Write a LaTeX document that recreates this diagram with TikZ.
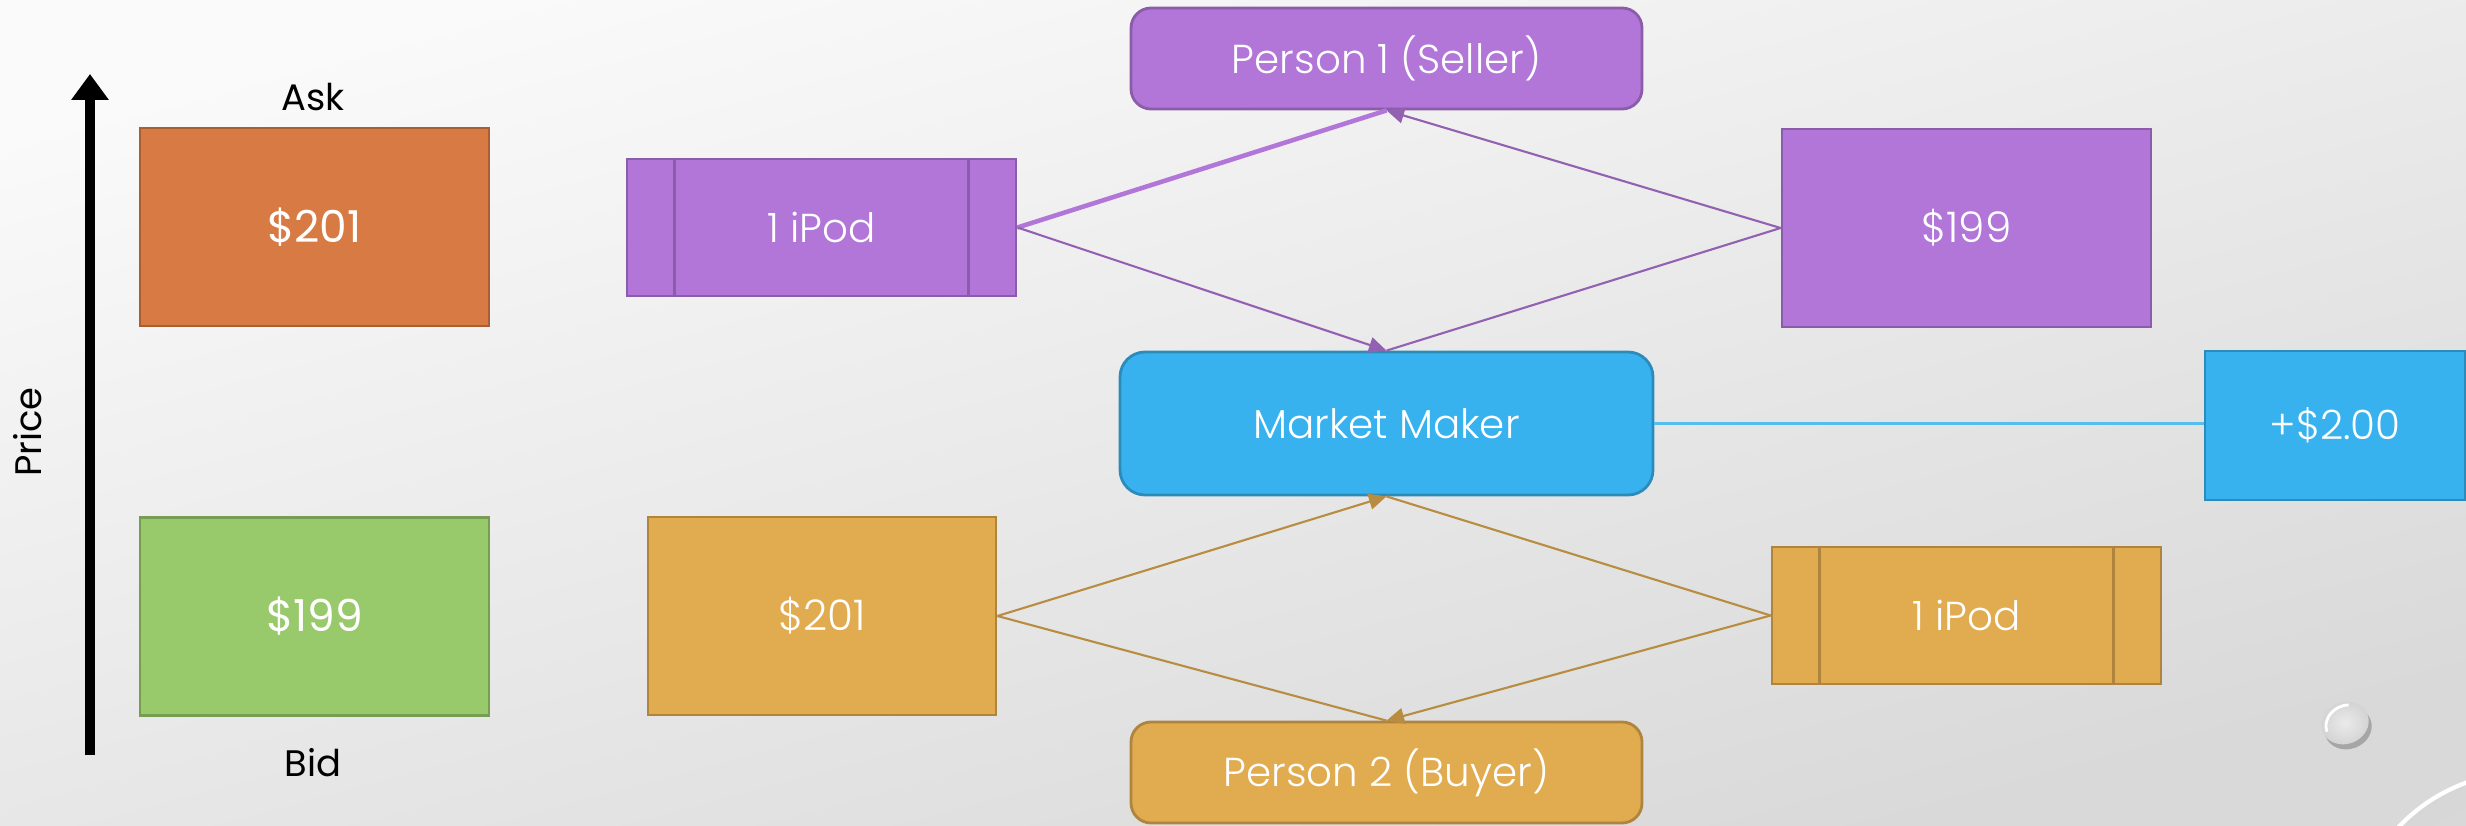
\documentclass[tikz,border=0pt]{standalone}
\usepackage{fontspec}
\setmainfont{Poppins}
\newfontfamily\boxfont{Poppins Light}
\usetikzlibrary{arrows.meta,positioning}
\definecolor{askorange}{HTML}{D87A43}
\definecolor{bidgreen}{HTML}{98C96A}
\definecolor{sellpurple}{HTML}{B276D9}
\definecolor{buygold}{HTML}{E1AB4F}
\definecolor{makerblue}{HTML}{38B2EF}

\begin{document}
\begin{tikzpicture}[
  sidelabel/.style={font=\fontsize{10.5}{12}\selectfont},
  quote/.style={draw=#1!78!black, fill=#1, line width=0.8pt, text=white,
    minimum width=3.49cm, minimum height=1.98cm, font=\fontsize{12.5}{14}\selectfont},
  flowbox/.style={draw=#1!78!black, fill=#1, line width=0.8pt, text=white,
    inner sep=0pt, font=\boxfont\fontsize{11.5}{13}\selectfont},
  party/.style={flowbox=#1, rounded corners=0.2cm, minimum width=5.11cm, minimum height=1.01cm},
  goods/.style={flowbox=#1, minimum width=3.89cm, minimum height=1.37cm},
  cash/.style={flowbox=#1, minimum width=3.69cm, minimum height=1.98cm, font=\boxfont\fontsize{12}{14}\selectfont},
  tradeline/.style={draw=#1!82!black, line width=0.6pt},
  tradearrow/.style={tradeline=#1, -{Triangle[length=5pt,width=4.5pt]}},
]
% slide backdrop
\useasboundingbox (0,0) rectangle (24.66,8.25);
\shade[top color=white!98!black, bottom color=black!15, shading angle=15] (0,0) rectangle (24.66,8.25);

% price scale on the left
\coordinate (pbot) at (0.90,0.70);
\coordinate (ptop) at (0.90,7.51);
\draw[line width=2.8pt, -{Triangle[length=0.26cm,width=0.36cm]}] (pbot) -- (ptop);
\node[sidelabel, rotate=90] (pricelbl) at (0.28,3.93) {Price};
\node[quote=askorange] (ask) at (3.145,5.98) {\$201};
\node[quote=bidgreen] (bid) at (3.145,2.085) {\$199};
\node[sidelabel] (asklbl) at (3.13,7.28) {Ask};
\node[sidelabel] (bidlbl) at (3.13,0.62) {Bid};

% the two sides of the trade
\node[party=sellpurple] (seller) at (13.865,7.665) {Person 1 (Seller)};
\node[party=makerblue, rounded corners=0.25cm, minimum width=5.33cm, minimum height=1.43cm] (maker) at (13.865,4.015) {Market Maker};
\node[party=buygold] (buyer) at (13.865,0.525) {Person 2 (Buyer)};
\node[goods=sellpurple] (ipodA) at (8.215,5.975) {1 iPod};
\node[cash=sellpurple] (payA) at (19.665,5.97) {\$199};
\node[cash=buygold, minimum width=3.48cm] (payB) at (8.22,2.09) {\$201};
\node[goods=buygold] (ipodB) at (19.665,2.095) {1 iPod};
\node[flowbox=makerblue, minimum width=2.6cm, minimum height=1.49cm] (gain) at (23.35,3.995) {+\$2.00};

% side bars of the goods boxes
\foreach \n/\c in {ipodA/sellpurple, ipodB/buygold} {
  \draw[\c!78!black, line width=0.8pt] ([xshift=0.49cm]\n.north west) -- ([xshift=0.49cm]\n.south west);
  \draw[\c!78!black, line width=0.8pt] ([xshift=-0.49cm]\n.north east) -- ([xshift=-0.49cm]\n.south east);
}

% seller leg
\draw[sellpurple, line width=1.3pt] (seller.south) -- (ipodA.east);
\draw[tradearrow=sellpurple] (ipodA.east) -- (maker.north);
\draw[tradeline=sellpurple] (maker.north) -- (payA.west);
\draw[tradearrow=sellpurple] (payA.west) -- (seller.south);

% buyer leg
\draw[tradeline=buygold] (buyer.north) -- (payB.east);
\draw[tradearrow=buygold] (payB.east) -- (maker.south);
\draw[tradeline=buygold] (maker.south) -- (ipodB.west);
\draw[tradearrow=buygold] (ipodB.west) -- (buyer.north);

% spread kept by the maker
\draw[makerblue!85!white, line width=0.6pt] (maker.east) -- (maker.east -| gain.west);

% water drops
\fill[black!35, rotate around={20:(23.48,0.97)}] (23.48,0.97) ellipse (0.24 and 0.21);
\shade[inner color=white!92!black, outer color=black!18, rotate around={20:(23.45,1.02)}] (23.45,1.02) ellipse (0.24 and 0.21);
\draw[white, line width=0.8pt, rotate around={20:(23.45,1.02)}] (23.25,1.0) arc (180:70:0.22 and 0.19);
\begin{scope}
  \clip (0,0) rectangle (24.66,8.25);
  \fill[black!28] (25.33,-1.28) circle (1.8);
  \shade[inner color=white!88!black, outer color=black!16] (25.30,-1.25) circle (1.8);
  \draw[white, line width=1.2pt] (23.62,-0.60) arc (159:105:1.76);
\end{scope}
\end{tikzpicture}
\end{document}
